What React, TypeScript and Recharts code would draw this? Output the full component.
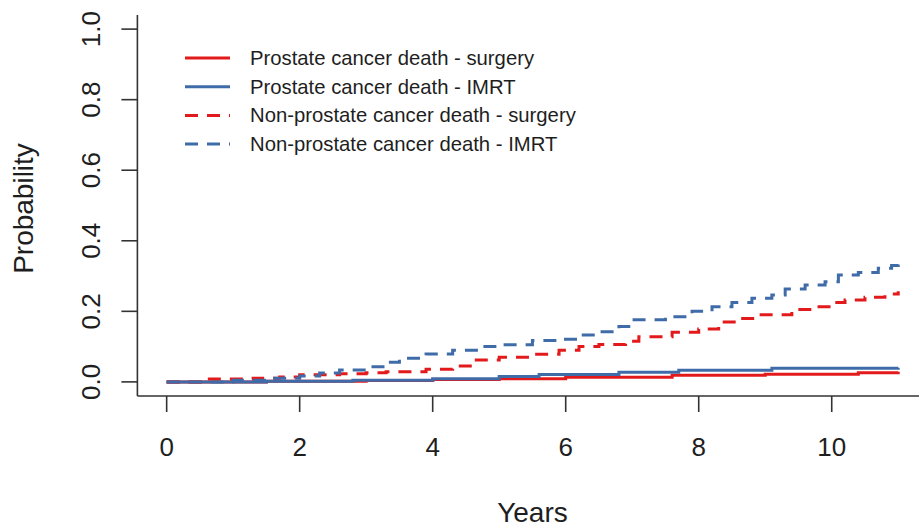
import React from 'react';
import { LineChart, Line, XAxis, YAxis, Legend } from 'recharts';

// ---- data ----
const seriesNames = [
  'Prostate cancer death - surgery',
  'Prostate cancer death - IMRT',
  'Non-prostate cancer death - surgery',
  'Non-prostate cancer death - IMRT',
];

const pcSurgeryYears = [0, 1.5, 3.0, 4.0, 5.0, 6.0, 7.6, 9.0, 10.4, 11.0];
const pcSurgeryProb = [0, 0.002, 0.004, 0.007, 0.009, 0.013, 0.019, 0.022, 0.026, 0.029];

const pcImrtYears = [0, 1.5, 2.8, 4.0, 5.0, 5.6, 6.8, 7.7, 9.1, 11.0];
const pcImrtProb = [0, 0.002, 0.005, 0.009, 0.015, 0.021, 0.027, 0.033, 0.039, 0.040];

const npcSurgeryYears = [0, 0.6, 1.3, 1.7, 2.0, 2.6, 3.0, 3.3, 3.9, 4.3, 4.6, 5.0, 5.5, 5.9, 6.2, 6.5, 6.9, 7.1, 7.6, 8.0, 8.3, 8.6, 8.9, 9.4, 9.7, 10.0, 10.2, 10.5, 10.8, 11.0];
const npcSurgeryProb = [0, 0.008, 0.010, 0.014, 0.020, 0.023, 0.026, 0.029, 0.036, 0.045, 0.062, 0.070, 0.078, 0.090, 0.100, 0.106, 0.115, 0.128, 0.141, 0.150, 0.170, 0.180, 0.190, 0.205, 0.213, 0.225, 0.232, 0.240, 0.249, 0.257];

const npcImrtYears = [0, 1.0, 1.6, 2.0, 2.3, 2.6, 3.0, 3.3, 3.5, 3.9, 4.3, 4.7, 5.0, 5.5, 5.9, 6.2, 6.5, 6.8, 7.0, 7.5, 7.9, 8.2, 8.5, 8.8, 9.1, 9.3, 9.6, 9.9, 10.1, 10.4, 10.7, 10.9, 11.0];
const npcImrtProb = [0, 0.005, 0.010, 0.017, 0.025, 0.034, 0.043, 0.056, 0.067, 0.079, 0.090, 0.100, 0.105, 0.117, 0.121, 0.133, 0.142, 0.157, 0.176, 0.185, 0.200, 0.213, 0.225, 0.237, 0.246, 0.263, 0.275, 0.284, 0.303, 0.310, 0.322, 0.330, 0.338];

const xTicks = [0, 2, 4, 6, 8, 10];
const yTicks = [0, 0.2, 0.4, 0.6, 0.8, 1.0];
const xTitle = 'Years';
const yTitle = 'Probability';

// ---- styling ----
const FONT = "'Liberation Sans', Arial, Helvetica, sans-serif";
const RED = '#E31A1C';
const BLUE = '#3F6CA8';
const AXIS = '#333333';
const TEXT = '#1e1e1e';
const DASH = '13 9';

const zip = (t: number[], v: number[]) => t.map((x, i) => ({ t: x, v: v[i] }));

const series = [
  { name: seriesNames[0], data: zip(pcSurgeryYears, pcSurgeryProb), color: RED, dash: undefined as string | undefined },
  { name: seriesNames[1], data: zip(pcImrtYears, pcImrtProb), color: BLUE, dash: undefined as string | undefined },
  { name: seriesNames[2], data: zip(npcSurgeryYears, npcSurgeryProb), color: RED, dash: DASH },
  { name: seriesNames[3], data: zip(npcImrtYears, npcImrtProb), color: BLUE, dash: DASH },
];

const XTick = (props: any) => {
  const { x, y, payload } = props;
  return (
    <text x={x} y={y + 42} textAnchor="middle" fontSize={26} fontFamily={FONT} fill={TEXT}>
      {payload.value}
    </text>
  );
};

const YTick = (props: any) => {
  const { x, y, payload } = props;
  const bx = x - 19.4;
  return (
    <text
      x={bx}
      y={y}
      textAnchor="middle"
      transform={`rotate(-90, ${bx}, ${y})`}
      fontSize={26}
      fontFamily={FONT}
      fill={TEXT}
    >
      {Number(payload.value).toFixed(1)}
    </text>
  );
};

const XTitle = (props: any) => {
  const vb = props.viewBox;
  return (
    <text x={vb.x + vb.width / 2} y={vb.y + 126} textAnchor="middle" fontSize={28} fontFamily={FONT} fill={TEXT}>
      {xTitle}
    </text>
  );
};

const YTitle = (props: any) => {
  const vb = props.viewBox;
  const cx = vb.x + 33;
  const cy = vb.y + vb.height / 2 + 3;
  return (
    <text x={cx} y={cy} textAnchor="middle" transform={`rotate(-90, ${cx}, ${cy})`} fontSize={28} fontFamily={FONT} fill={TEXT}>
      {yTitle}
    </text>
  );
};

const LegendBox = () => (
  <svg width={620} height={170} style={{ display: 'block' }}>
    {series.map((s, i) => {
      const cy = 58 + i * 28.7;
      return (
        <g key={s.name}>
          <line x1={185} x2={230} y1={cy} y2={cy} stroke={s.color} strokeWidth={3} strokeDasharray={s.dash} />
          <text x={250} y={cy + 7} fontSize={20.3} fontFamily={FONT} fill={TEXT}>
            {s.name}
          </text>
        </g>
      );
    })}
  </svg>
);

export default function App() {
  return (
    <div style={{ position: 'absolute', left: 0, top: 0, width: 919, height: 527, overflow: 'hidden', background: '#ffffff' }}>
      <LineChart width={940} height={527} margin={{ top: 15, right: 12.5, bottom: 0, left: 0 }}>
        <XAxis
          type="number"
          dataKey="t"
          domain={[-0.44, 11.44]}
          ticks={xTicks}
          allowDataOverflow
          height={131}
          tickSize={16}
          tick={<XTick />}
          axisLine={{ stroke: AXIS, strokeWidth: 1.6 }}
          tickLine={{ stroke: AXIS, strokeWidth: 1.6 }}
          label={<XTitle />}
        />
        <YAxis
          type="number"
          domain={[-0.04, 1.04]}
          ticks={yTicks}
          allowDataOverflow
          width={137.4}
          tickSize={16}
          tick={<YTick />}
          axisLine={{ stroke: AXIS, strokeWidth: 1.6 }}
          tickLine={{ stroke: AXIS, strokeWidth: 1.6 }}
          label={<YTitle />}
        />
        <Legend
          layout="vertical"
          align="center"
          verticalAlign="middle"
          wrapperStyle={{ left: 0, top: 0, width: 620, height: 170 }}
          content={<LegendBox />}
        />
        {series.map((s) => (
          <Line
            key={s.name}
            name={s.name}
            data={s.data}
            dataKey="v"
            type="stepAfter"
            stroke={s.color}
            strokeWidth={3}
            strokeDasharray={s.dash}
            dot={false}
            activeDot={false}
            isAnimationActive={false}
          />
        ))}
      </LineChart>
    </div>
  );
}
